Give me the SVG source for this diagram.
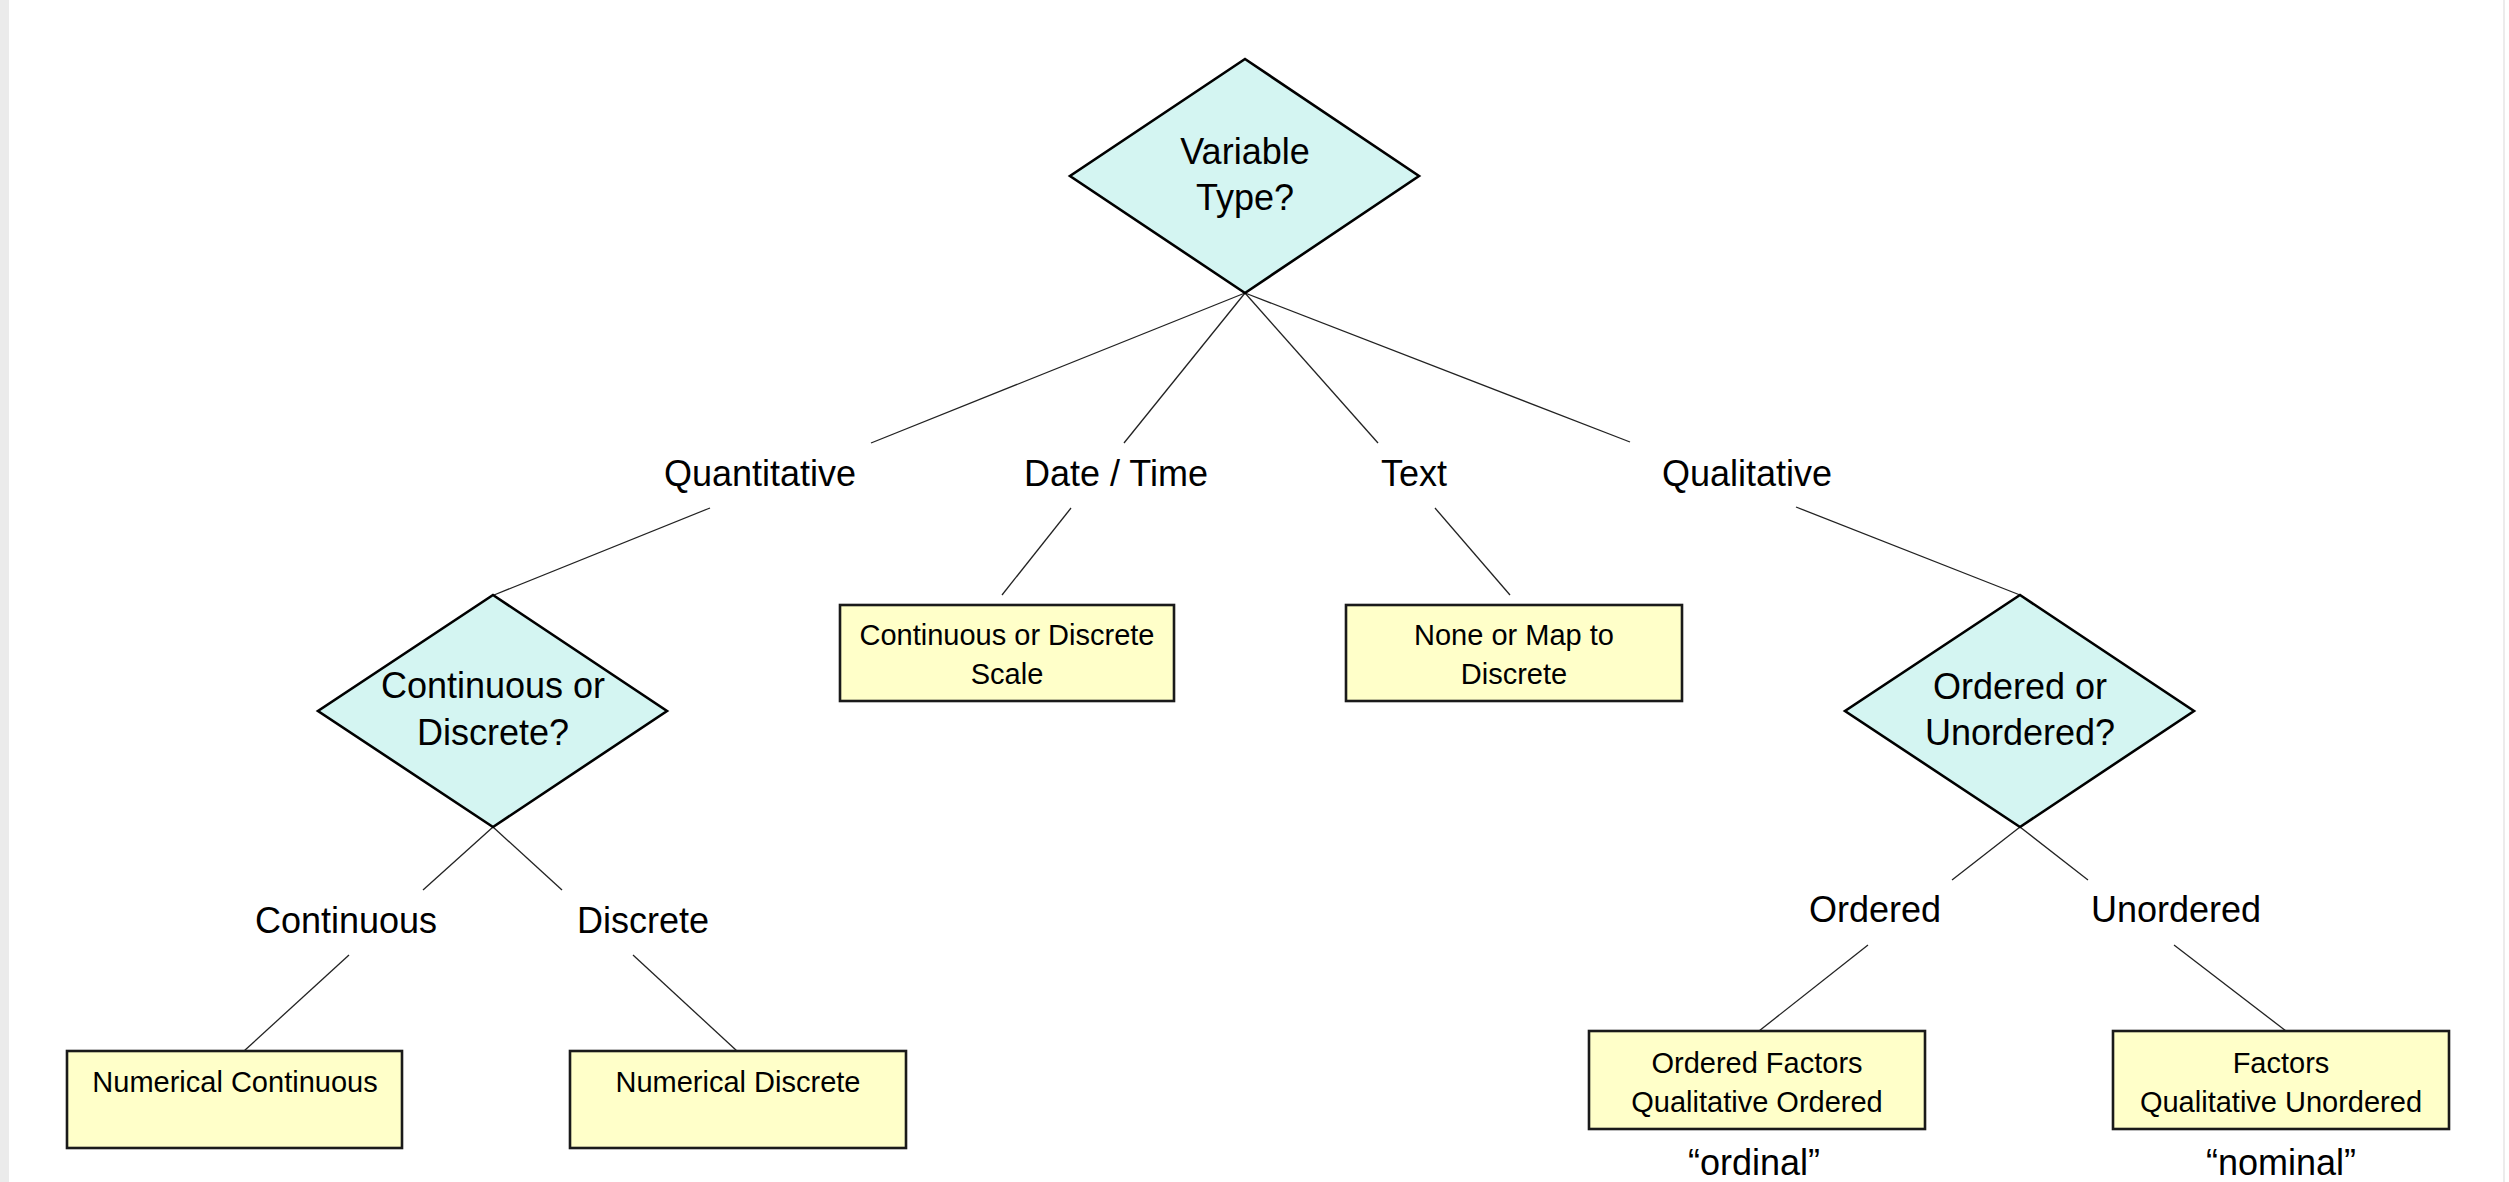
<svg xmlns="http://www.w3.org/2000/svg" width="2509" height="1182" viewBox="0 0 2509 1182">
<style>
.bg{fill:#ffffff}
.dia{fill:#d4f5f2;stroke:#000;stroke-width:2.6;stroke-linejoin:miter}
.box{fill:#ffffc9;stroke:#1a1a1a;stroke-width:2.6}
.con line{stroke:#222;stroke-width:1.3}
.t{font-family:"Liberation Sans",Arial,sans-serif;fill:#000;text-anchor:middle}
.lg{font-size:36px}
.sm{font-size:29px}
</style>
<rect class="bg" x="0" y="0" width="2509" height="1182"/>
<rect x="0" y="0" width="9" height="1182" fill="#ebebeb"/>
<rect x="2503" y="0" width="2" height="1182" fill="#ececec"/>

<g id="connectors" class="con">
<line x1="1245" y1="293" x2="871" y2="443"/>
<line x1="1245" y1="293" x2="1124" y2="443"/>
<line x1="1245" y1="293" x2="1378" y2="443"/>
<line x1="1245" y1="293" x2="1630" y2="442"/>
<line x1="710" y1="508" x2="494" y2="595"/>
<line x1="1071" y1="508" x2="1002" y2="595"/>
<line x1="1435" y1="508" x2="1510" y2="595"/>
<line x1="1796" y1="507" x2="2020" y2="595"/>
<line x1="493" y1="827" x2="423" y2="890"/>
<line x1="493" y1="827" x2="562" y2="890"/>
<line x1="349" y1="955" x2="244" y2="1051"/>
<line x1="633" y1="955" x2="737" y2="1051"/>
<line x1="2020" y1="827" x2="1952" y2="880"/>
<line x1="2020" y1="827" x2="2088" y2="880"/>
<line x1="1868" y1="945" x2="1759" y2="1031"/>
<line x1="2174" y1="945" x2="2286" y2="1031"/>
</g>

<g id="variable-type">
<polygon class="dia" points="1245,59 1419,176 1245,293 1070,176"/>
<text class="t lg" x="1245" y="164">Variable</text>
<text class="t lg" x="1245" y="210">Type?</text>
</g>

<g id="quantitative"><text class="t lg" x="760" y="486">Quantitative</text></g>
<g id="datetime"><text class="t lg" x="1116" y="486">Date / Time</text></g>
<g id="text"><text class="t lg" x="1414" y="486">Text</text></g>
<g id="qualitative"><text class="t lg" x="1747" y="486">Qualitative</text></g>

<g id="cont-or-disc">
<polygon class="dia" points="493,595 667,711 493,827 318,711"/>
<text class="t lg" x="493" y="698">Continuous or</text>
<text class="t lg" x="493" y="745">Discrete?</text>
</g>

<g id="scale-box">
<rect class="box" x="840" y="605" width="334" height="96"/>
<text class="t sm" x="1007" y="645">Continuous or Discrete</text>
<text class="t sm" x="1007" y="684">Scale</text>
</g>

<g id="none-box">
<rect class="box" x="1346" y="605" width="336" height="96"/>
<text class="t sm" x="1514" y="645">None or Map to</text>
<text class="t sm" x="1514" y="684">Discrete</text>
</g>

<g id="ord-or-unord">
<polygon class="dia" points="2020,595 2194,711 2020,827 1845,711"/>
<text class="t lg" x="2020" y="699">Ordered or</text>
<text class="t lg" x="2020" y="745">Unordered?</text>
</g>

<g id="continuous"><text class="t lg" x="346" y="933">Continuous</text></g>
<g id="discrete"><text class="t lg" x="643" y="933">Discrete</text></g>
<g id="ordered"><text class="t lg" x="1875" y="922">Ordered</text></g>
<g id="unordered"><text class="t lg" x="2176" y="922">Unordered</text></g>

<g id="num-cont">
<rect class="box" x="67" y="1051" width="335" height="97"/>
<text class="t sm" x="235" y="1092">Numerical Continuous</text>
</g>

<g id="num-disc">
<rect class="box" x="570" y="1051" width="336" height="97"/>
<text class="t sm" x="738" y="1092">Numerical Discrete</text>
</g>

<g id="ord-factors">
<rect class="box" x="1589" y="1031" width="336" height="98"/>
<text class="t sm" x="1757" y="1073">Ordered Factors</text>
<text class="t sm" x="1757" y="1112">Qualitative Ordered</text>
<text class="t lg" x="1754" y="1175">“ordinal”</text>
</g>

<g id="factors">
<rect class="box" x="2113" y="1031" width="336" height="98"/>
<text class="t sm" x="2281" y="1073">Factors</text>
<text class="t sm" x="2281" y="1112">Qualitative Unordered</text>
<text class="t lg" x="2281" y="1175">“nominal”</text>
</g>
</svg>
